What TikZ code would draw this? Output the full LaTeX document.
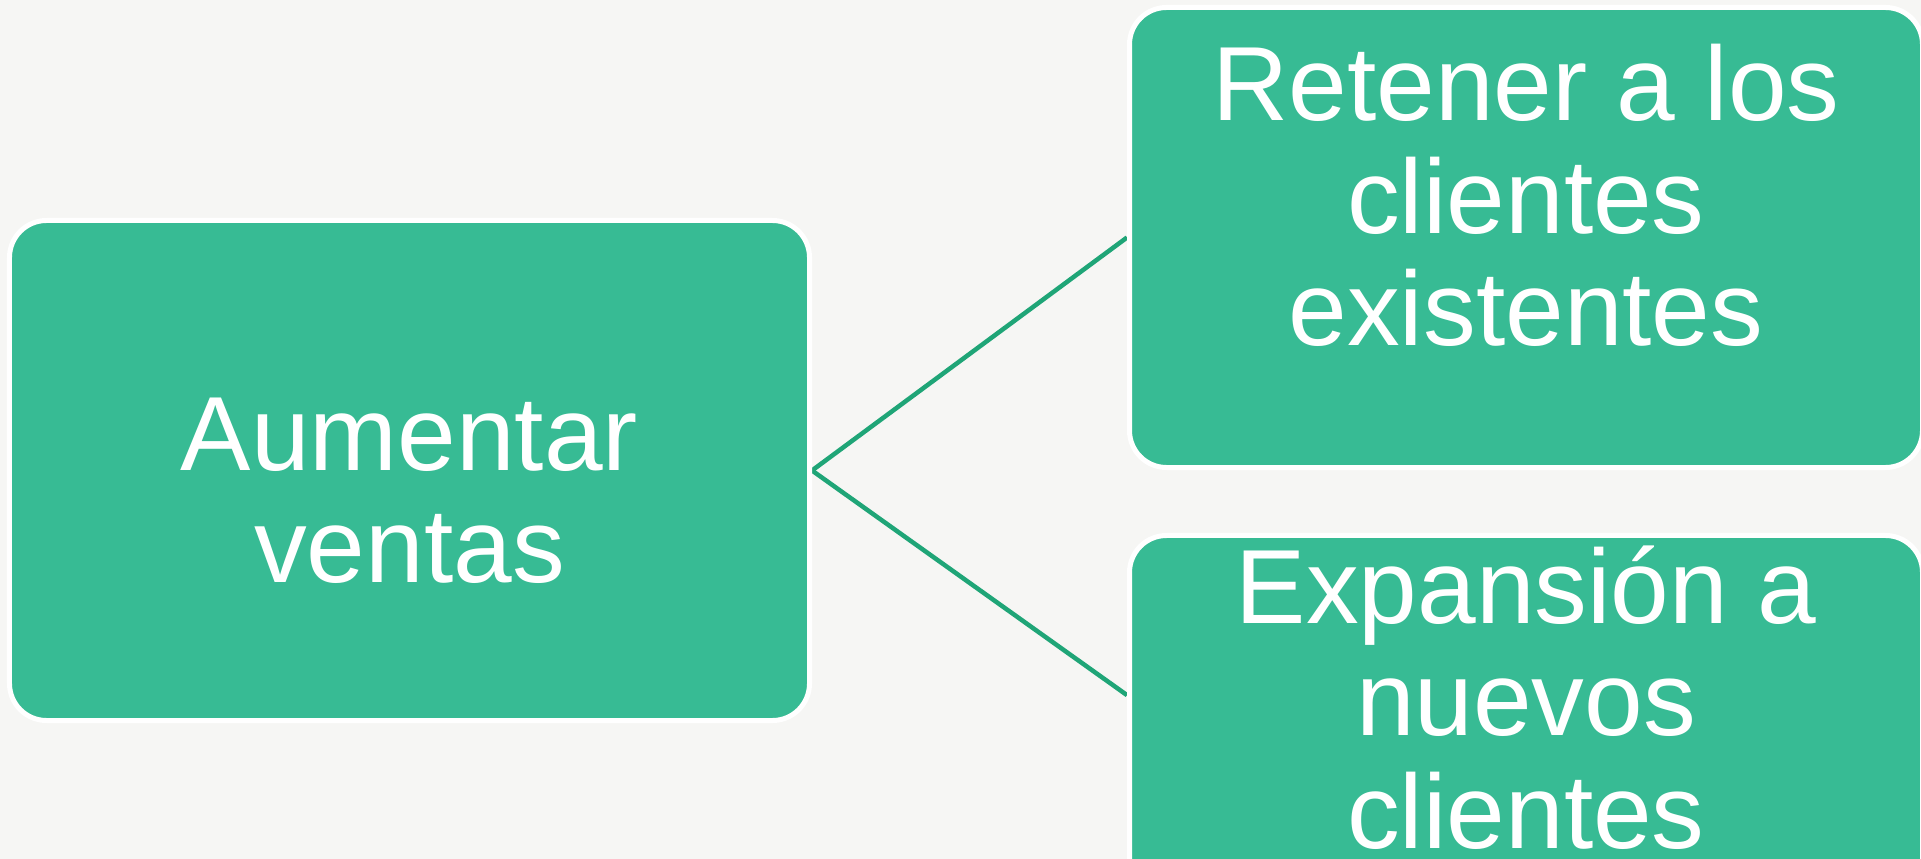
\documentclass[tikz,border=0pt]{standalone}
\usepackage{fontspec}
\setmainfont{Liberation Sans}
\usetikzlibrary{backgrounds}
\definecolor{BoxGreen}{HTML}{37BB94}
\definecolor{WireGreen}{HTML}{1FA577}
\definecolor{PageGray}{HTML}{F6F6F4}
\tikzset{
  goalbox/.style={draw=white, line width=1mm, rounded corners=7.4mm, fill=BoxGreen,
    minimum width=160mm, minimum height=100mm, inner sep=0pt},
  branchbox/.style={goalbox, minimum width=158.6mm, minimum height=92mm},
  boxtext/.style={text=white, align=center, inner sep=0pt,
    font=\fontsize{60}{64}\selectfont},
  wire/.style={draw=WireGreen, line width=0.9mm}
}
\begin{document}
\begin{tikzpicture}[x=0.2mm, y=-0.2mm]
  \useasboundingbox (0,0) rectangle (1921,859);
  \node[goalbox] (goal) at (409.5,470.5) {};
  \node[branchbox] (retain) at (1526,237.5) {};
  \node[branchbox] (expand) at (1526,765.5) {};
  \node[boxtext] (goaltext) at ([yshift=-4mm]goal.center) {Aumentar\\ventas};
  \node[boxtext] (retaintext) at ([yshift=8.4mm]retain.center) {Retener a los\\clientes\\existentes};
  \node[boxtext] (expandtext) at ([yshift=13.6mm]expand.center) {Expansión a\\nuevos\\clientes};
  \begin{scope}[on background layer]
    \fill[PageGray] (0,0) rectangle (1921,859);
    \draw[wire] (goal.east) -- (retain.west);
    \draw[wire] (goal.east) -- (expand.170);
  \end{scope}
\end{tikzpicture}
\end{document}
